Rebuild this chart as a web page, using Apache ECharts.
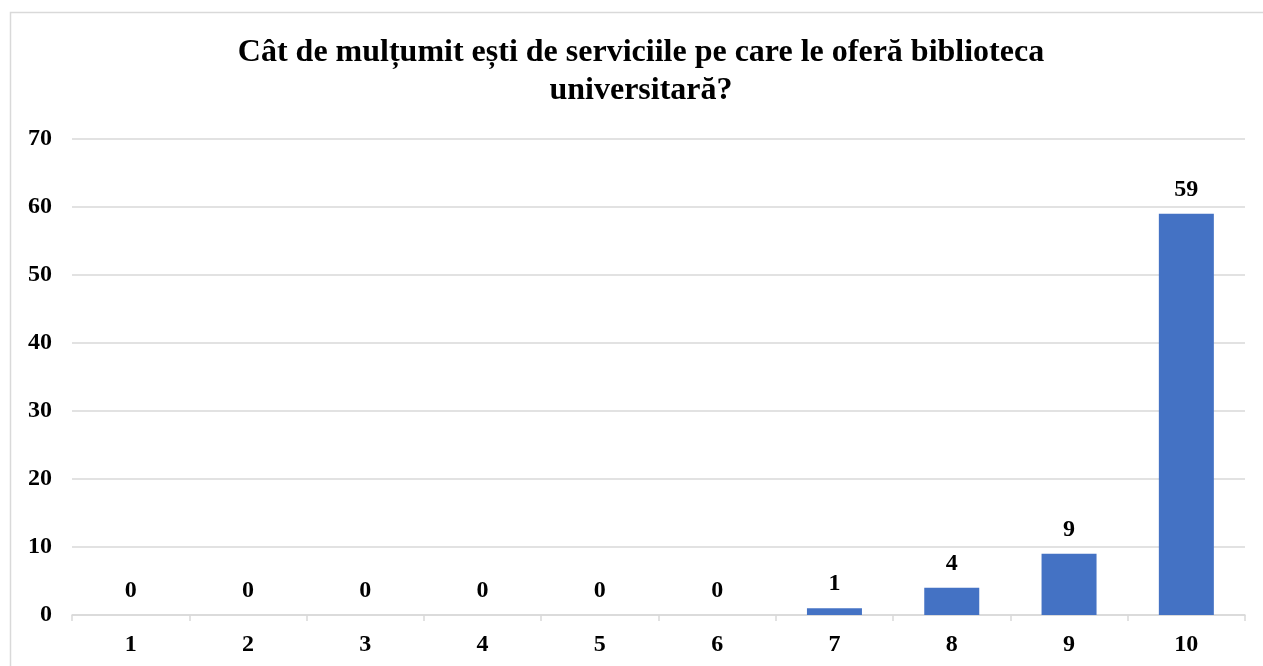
<!DOCTYPE html>
<html>
<head>
<meta charset="utf-8">
<script src="https://cdn.jsdelivr.net/npm/echarts@6/dist/echarts.min.js"></script>
<style>
html,body{margin:0;padding:0;background:#fff;}
#c{width:1263px;height:666px;}
</style>
</head>
<body>
<div id="c"></div>
<script>
const titleText = 'Cât de mulțumit ești de serviciile pe care le oferă biblioteca\nuniversitară?';
const categories = ['1','2','3','4','5','6','7','8','9','10'];
const values = [0,0,0,0,0,0,1,4,9,59];
const yTicks = {min:0, max:70, interval:10};

const font = '"Liberation Serif", "Times New Roman", serif';
const chart = echarts.init(document.getElementById('c'));
chart.setOption({
  animation:false,
  backgroundColor:'#fff',
  graphic:[
    {type:'rect',shape:{x:10.5,y:12.5,width:1400,height:800},style:{fill:'none',stroke:'#d9d9d9',lineWidth:1.5},silent:true},
    {type:'text',x:641,y:34,silent:true,style:{text:titleText,align:'center',verticalAlign:'top',textAlign:'center',textVerticalAlign:'top',
      fontFamily:font,fontWeight:'bold',fontSize:32,lineHeight:38,fill:'#000'}}
  ],
  grid:{left:72,right:18,top:139,bottom:51,containLabel:false},
  xAxis:{type:'category',data:categories,
    axisLine:{lineStyle:{color:'#d9d9d9',width:1.5}},
    axisTick:{show:true,length:6,lineStyle:{color:'#d9d9d9',width:1.5}},
    axisLabel:{fontFamily:font,fontWeight:'bold',fontSize:24,color:'#000',margin:18}},
  yAxis:{type:'value',min:yTicks.min,max:yTicks.max,interval:yTicks.interval,
    axisLine:{show:false},axisTick:{show:false},
    splitLine:{lineStyle:{color:'#d9d9d9',width:1.5}},
    axisLabel:{fontFamily:font,fontWeight:'bold',fontSize:24,color:'#000',margin:20}},
  series:[{type:'bar',data:values,barWidth:55,itemStyle:{color:'#4472C4'},
    label:{show:true,position:'top',distance:12,fontFamily:font,fontWeight:'bold',fontSize:24,color:'#000'}}]
});
</script>
</body>
</html>
